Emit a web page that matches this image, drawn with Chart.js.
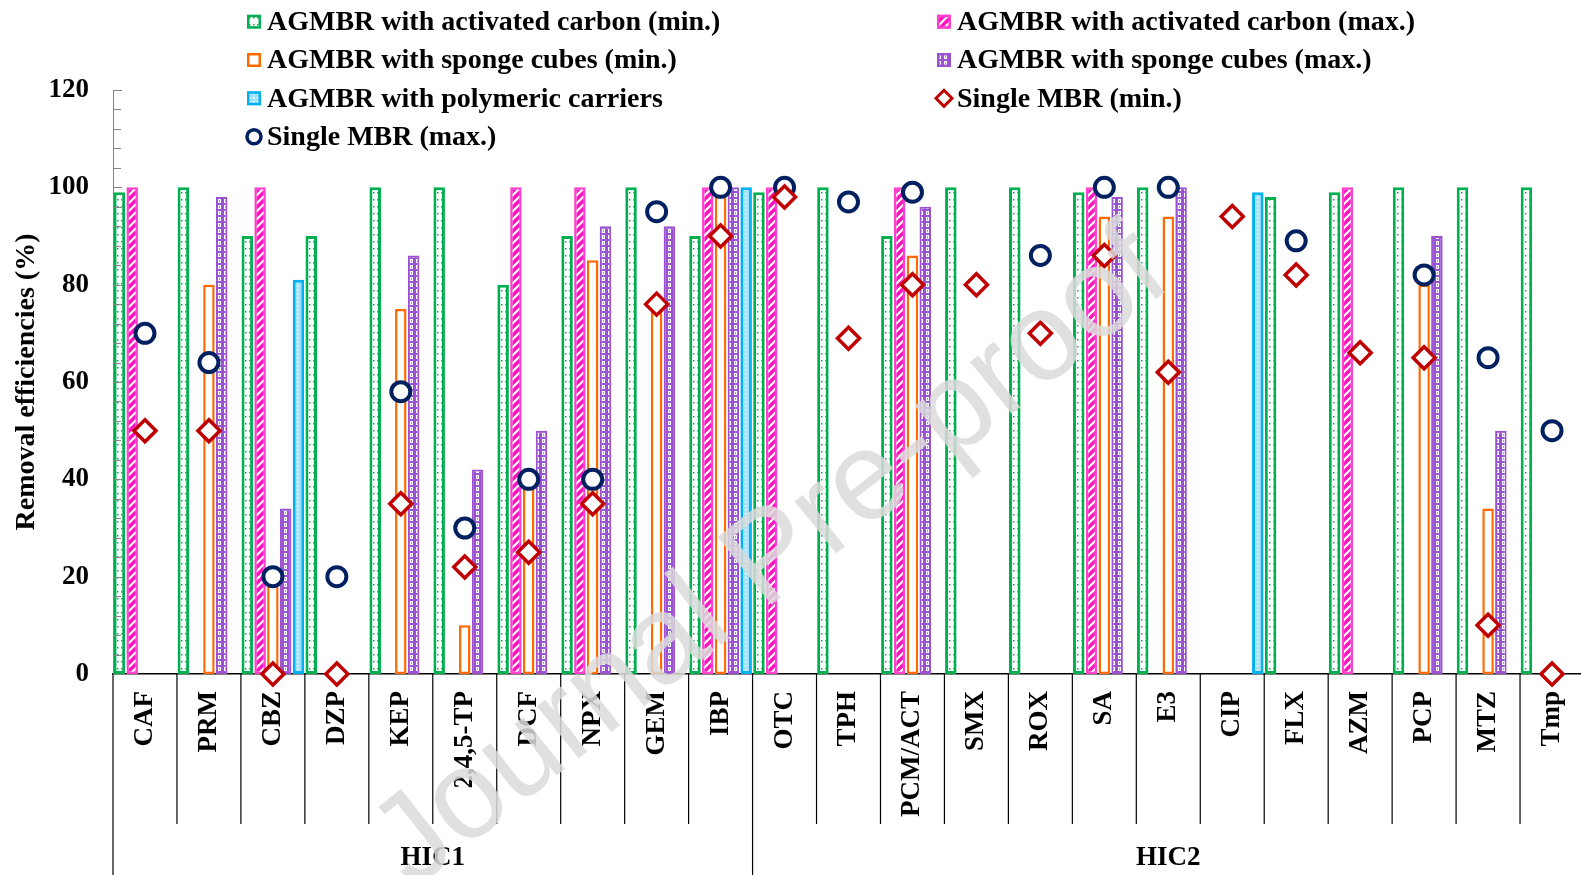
<!DOCTYPE html>
<html>
<head>
<meta charset="utf-8">
<script src="https://cdn.jsdelivr.net/npm/chart.js@4.4.1/dist/chart.umd.min.js"></script>
<style>
  html, body { margin: 0; padding: 0; background: #fff; overflow: hidden; }
  #wrap { position: relative; width: 1590px; height: 875px; }
  #myChart { display: block; }
</style>
</head>
<body>
<div id="wrap"><canvas id="myChart" width="1590" height="875"></canvas></div>
<script>
// compounds on the x axis
let categories = ["CAF", "PRM", "CBZ", "DZP", "KEP", "2,4,5-TP", "DCF", "NPX", "GEM", "IBP",
  "OTC", "TPH", "PCM/ACT", "SMX", "ROX", "SA", "E3", "CIP", "FLX", "AZM", "PCP", "MTZ", "Tmp"];
// second level of the axis
let groupLabels = ["HIC1", "HIC2"];
let groupSizes = [10, 13];

// removal efficiencies (%), null = no bar
let acMin = [99, 100, 90, 90, 100, 100, 80, 90, 100, 90, 99, 100, 90, 100, 100, 99, 100, null, 98, 99, 100, 100, 100];
let acMax = [100, null, 100, null, null, null, 100, 100, null, 100, 100, null, 100, null, null, 100, null, null, null, 100, null, null, null];
let scMin = [null, 80, 20, null, 75, 10, 40, 85, 76, 100, null, null, 86, null, null, 94, 94, null, null, null, 80, 34, null];
let scMax = [null, 98, 34, null, 86, 42, 50, 92, 92, 100, null, null, 96, null, null, 98, 100, null, null, null, 90, 50, null];
let polyCarriers = [null, null, 81, null, null, null, null, null, null, 100, null, null, null, null, null, null, null, 99, null, null, null, null, null];
let mbrMin = [50, 50, 0, 0, 35, 22, 25, 35, 76, 90, 98, 69, 80, 80, 70, 86, 62, 94, 82, 66, 65, 10, 0];
let mbrMax = [70, 64, 20, 20, 58, 30, 40, 40, 95, 100, 100, 97, 99, null, 86, 100, 100, null, 89, null, 82, 65, 50];

let yTicks = [0, 20, 40, 60, 80, 100, 120];

const SERIF = "'Liberation Serif', 'Times New Roman', serif";

//small repeating fills like the excel patterns
function pattern(w, h, bg, paint) {
  let c = document.createElement("canvas");
  c.width = w;
  c.height = h;
  let g = c.getContext("2d");
  g.fillStyle = bg;
  g.fillRect(0, 0, w, h);
  paint(g);
  return g.createPattern(c, "repeat");
}

let greenDots = pattern(4, 7, "#ffffff", function(g) {
  g.fillStyle = "#00b050";
  g.fillRect(1, 3, 1.5, 1.5);
});
let pinkStripes = pattern(8, 8, "#ffffff", function(g) {
  g.strokeStyle = "#ff0fbe";
  g.lineWidth = 3.4;
  g.beginPath();
  g.moveTo(-2, 10); g.lineTo(10, -2);
  g.moveTo(-2, 2); g.lineTo(2, -2);
  g.moveTo(6, 10); g.lineTo(10, 6);
  g.stroke();
});
let purpleLinks = pattern(6, 6, "#9a52cf", function(g) {
  g.fillStyle = "#ffffff";
  g.fillRect(2, 1, 3, 4);
  g.fillStyle = "#b98ae0";
  g.fillRect(3, 2, 1, 2);
});
let cyanDots = pattern(4, 4, "#a3e1fa", function(g) {
  g.fillStyle = "#ffffff";
  g.fillRect(1, 1, 1.5, 1.5);
});

function barSet(label, data, fill, border, width) {
  return {
    type: "bar",
    label: label,
    data: data,
    backgroundColor: fill,
    borderColor: border,
    borderWidth: width,
    borderSkipped: false,
    categoryPercentage: 1,
    barPercentage: 0.9,
    order: 2
  };
}

function pointSet(label, data, style, radius, width, color) {
  return {
    type: "line",
    label: label,
    data: data,
    showLine: false,
    pointStyle: style,
    pointRadius: radius,
    pointHoverRadius: radius,
    pointBorderWidth: width,
    pointBorderColor: color,
    pointBackgroundColor: "#ffffff",
    borderColor: color,
    backgroundColor: "#ffffff",
    clip: false,
    order: 1
  };
}

let datasets = [
  barSet("AGMBR with activated carbon (min.)", acMin, greenDots, "#00b050", 3),
  barSet("AGMBR with activated carbon (max.)", acMax, pinkStripes, "#ff40cc", 2.5),
  barSet("AGMBR with sponge cubes (min.)", scMin, "#ffffff", "#ff6a00", 2.5),
  barSet("AGMBR with sponge cubes (max.)", scMax, purpleLinks, "#9a52cf", 2),
  barSet("AGMBR with polymeric carriers", polyCarriers, cyanDots, "#00b0f0", 3),
  pointSet("Single MBR (min.)", mbrMin, "rectRot", 11, 3.5, "#c00000"),
  pointSet("Single MBR (max.)", mbrMax, "circle", 9.5, 4, "#002060")
];

//legend in two columns like the original
let legendSlots = [
  [254, 21.7], [944, 21.7],
  [254, 60], [944, 60],
  [254, 98.3], [944, 98.3],
  [254, 136.7]
];

function drawMarker(ctx, ds, x, y) {
  ctx.save();
  if (ds.type === "bar") {
    ctx.fillStyle = ds.backgroundColor;
    ctx.fillRect(x - 7, y - 7, 14, 14);
    ctx.strokeStyle = ds.borderColor;
    ctx.lineWidth = 2.5;
    ctx.strokeRect(x - 5.75, y - 5.75, 11.5, 11.5);
  } else if (ds.pointStyle === "rectRot") {
    ctx.beginPath();
    ctx.moveTo(x, y - 8);
    ctx.lineTo(x + 8, y);
    ctx.lineTo(x, y + 8);
    ctx.lineTo(x - 8, y);
    ctx.closePath();
    ctx.fillStyle = "#fff";
    ctx.fill();
    ctx.strokeStyle = ds.borderColor;
    ctx.lineWidth = 3;
    ctx.stroke();
  } else {
    ctx.beginPath();
    ctx.arc(x, y, 7, 0, Math.PI * 2);
    ctx.fillStyle = "#fff";
    ctx.fill();
    ctx.strokeStyle = ds.borderColor;
    ctx.lineWidth = 3.5;
    ctx.stroke();
  }
  ctx.restore();
}

let extras = {
  id: "extras",
  afterDraw(chart) {
    let ctx = chart.ctx;
    let area = chart.chartArea;
    let yScale = chart.scales.y;
    let cw = (area.right - area.left) / categories.length;

    //minor and major ticks point into the plot
    ctx.save();
    ctx.strokeStyle = "#868686";
    ctx.lineWidth = 1;
    for (let v = 0; v <= 120; v += 4) {
      let y = Math.round(yScale.getPixelForValue(v)) + 0.5;
      ctx.beginPath();
      ctx.moveTo(area.left, y);
      ctx.lineTo(area.left + (v % 20 === 0 ? 9 : 8), y);
      ctx.stroke();
    }
    ctx.restore();

    //category separators and group separators
    let bounds = [0];
    let acc = 0;
    groupSizes.forEach(function(n) { acc += n; bounds.push(acc); });
    ctx.save();
    ctx.strokeStyle = "#000";
    ctx.lineWidth = 1.2;
    for (let k = 0; k <= categories.length; k++) {
      let x = area.left + k * cw;
      let bottom = bounds.indexOf(k) >= 0 ? chart.height : area.bottom + 150;
      ctx.beginPath();
      ctx.moveTo(x, area.bottom);
      ctx.lineTo(x, bottom);
      ctx.stroke();
    }
    ctx.fillStyle = "#000";
    ctx.font = "bold 27px " + SERIF;
    ctx.textAlign = "center";
    ctx.textBaseline = "middle";
    for (let i = 0; i < groupLabels.length; i++) {
      let x = area.left + (bounds[i] + bounds[i + 1]) / 2 * cw;
      ctx.fillText(groupLabels[i], x, 858);
    }
    ctx.restore();

    //legend
    ctx.save();
    ctx.font = "bold 28px " + SERIF;
    ctx.fillStyle = "#000";
    ctx.textAlign = "left";
    ctx.textBaseline = "middle";
    chart.data.datasets.forEach(function(ds, i) {
      let slot = legendSlots[i];
      drawMarker(ctx, ds, slot[0], slot[1]);
      ctx.fillText(ds.label, slot[0] + 13, slot[1] + 1);
    });
    ctx.restore();

    //watermark on top of everything
    ctx.save();
    ctx.translate(772, 560);
    ctx.rotate(-38.5 * Math.PI / 180);
    ctx.font = "126px 'Liberation Sans', Arial, sans-serif";
    ctx.fillStyle = "rgba(218,218,218,0.85)";
    ctx.textAlign = "center";
    ctx.textBaseline = "middle";
    ctx.fillText("Journal Pre-proof", 0, 0);
    ctx.restore();
  }
};

let myChart = document.getElementById("myChart").getContext("2d");

let chart = new Chart(myChart, {
  data: {
    labels: categories,
    datasets: datasets
  },
  options: {
    responsive: false,
    maintainAspectRatio: false,
    animation: false,
    events: [],
    layout: {
      autoPadding: false,
      //plot runs a little past the right edge of the window, like the original
      padding: function(c) {
        return { top: 90, right: c.chart.width - 1584, left: 0, bottom: 0 };
      }
    },
    plugins: {
      legend: { display: false },
      tooltip: { enabled: false }
    },
    scales: {
      x: {
        type: "category",
        offset: true,
        grid: { display: false, drawTicks: false },
        border: { display: true, color: "#000", width: 1.5 },
        ticks: {
          autoSkip: false,
          maxRotation: 90,
          minRotation: 90,
          padding: 17,
          color: "#000",
          font: { family: SERIF, size: 27, weight: "bold" }
        },
        afterFit(scale) {
          scale.height = 201;
          scale.paddingLeft = 0;
          scale.paddingRight = 0;
        }
      },
      y: {
        min: 0,
        max: 120,
        afterBuildTicks(scale) { scale.ticks = yTicks.map(v => ({ value: v })); },
        grid: { display: false, drawTicks: false },
        border: { display: true, color: "#868686", width: 1 },
        ticks: {
          padding: 24,
          color: "#000",
          font: { family: SERIF, size: 27, weight: "bold" }
        },
        title: {
          display: true,
          text: "Removal efficiencies (%)",
          color: "#000",
          padding: { top: 10, bottom: 0 },
          font: { family: SERIF, size: 28, weight: "bold" }
        },
        afterFit(scale) { scale.width = 113; }
      }
    }
  },
  plugins: [extras]
});
</script>
</body>
</html>
